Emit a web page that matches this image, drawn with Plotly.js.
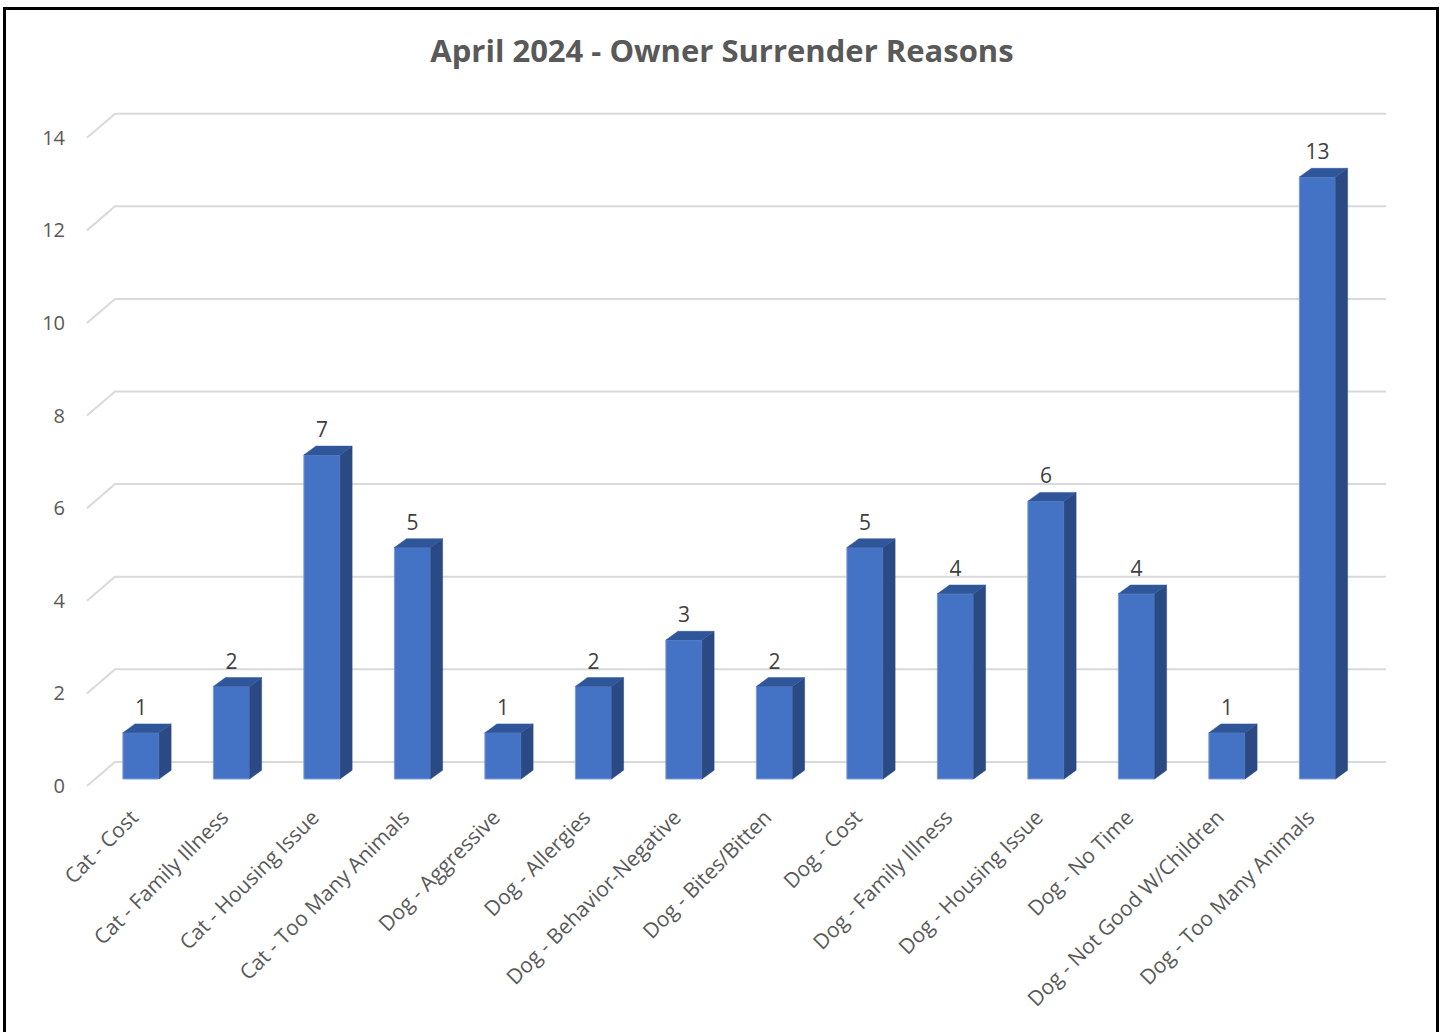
<!DOCTYPE html>
<html>
<head>
<meta charset="utf-8">
<script src="https://cdn.plot.ly/plotly-3.0.1.min.js"></script>
<style>
  html, body { margin: 0; padding: 0; background: #ffffff; overflow: hidden; }
  #chart { width: 1444px; height: 1032px; }
  #frame { position: absolute; left: 3px; top: 7px; width: 1436px; height: 1100px;
           box-sizing: border-box; border: 3px solid #000; pointer-events: none; }
</style>
</head>
<body>
<div id="chart"></div>
<div id="frame"></div>
<script>
// ---- data ----
const categories = [
  "Cat - Cost", "Cat - Family Illness", "Cat - Housing Issue", "Cat - Too Many Animals",
  "Dog - Aggressive", "Dog - Allergies", "Dog - Behavior-Negative", "Dog - Bites/Bitten",
  "Dog - Cost", "Dog - Family Illness", "Dog - Housing Issue", "Dog - No Time",
  "Dog - Not Good W/Children", "Dog - Too Many Animals"
];
const counts = [1, 2, 7, 5, 1, 2, 3, 2, 5, 4, 6, 4, 1, 13];
const yTicks = [0, 2, 4, 6, 8, 10, 12, 14];
const chartTitle = "April 2024 - Owner Surrender Reasons";

// ---- style / geometry constants (3D look) ----
const BAR_W = 0.4;        // front face width (category units)
const DEPTH_X = 0.133;    // bar depth, x (category units)
const DEPTH_Y = 0.19;     // bar depth, y (value units)
const LABEL_GAP = 0.08;   // extra space above bar for data label
const WALL_X_FRONT = -0.597;
const WALL_X_BACK = -0.287;
const WALL_X_END = 13.757;
const WALL_DY = 0.52;

const idx = categories.map((_, i) => i);

// gridlines (front-left diagonal + back wall horizontal)
const gx = [], gy = [];
yTicks.forEach(v => {
  gx.push(WALL_X_FRONT, WALL_X_BACK, WALL_X_END, null);
  gy.push(v, v + WALL_DY, v + WALL_DY, null);
});

// side and top faces of each bar
const sx = [], sy = [], tx = [], ty = [];
idx.forEach(i => {
  const v = counts[i];
  const l = i - BAR_W / 2, r = i + BAR_W / 2;
  sx.push(r, r + DEPTH_X, r + DEPTH_X, r, r, null);
  sy.push(0, DEPTH_Y, v + DEPTH_Y, v, 0, null);
  tx.push(l, l + DEPTH_X, r + DEPTH_X, r, l, null);
  ty.push(v, v + DEPTH_Y, v + DEPTH_Y, v, v, null);
});

const FONT = "Open Sans, Noto Sans, sans-serif";

const traces = [
  { type: "scatter", mode: "lines", x: gx, y: gy, xaxis: "x", yaxis: "y",
    line: { color: "#D9D9D9", width: 2 }, hoverinfo: "skip", showlegend: false },
  { type: "bar", x: idx, y: counts, width: BAR_W, xaxis: "x", yaxis: "y2",
    marker: { color: "#4472C4", line: { color: "#7C9BD8", width: 1 } },
    hoverinfo: "skip", showlegend: false },
  { type: "scatter", mode: "lines", x: sx, y: sy, xaxis: "x", yaxis: "y2",
    fill: "toself", fillcolor: "#2B4A84", line: { color: "#2B4A84", width: 0.5 },
    hoverinfo: "skip", showlegend: false },
  { type: "scatter", mode: "lines", x: tx, y: ty, xaxis: "x", yaxis: "y2",
    fill: "toself", fillcolor: "#30569A", line: { color: "#30569A", width: 0.5 },
    hoverinfo: "skip", showlegend: false },
  { type: "scatter", mode: "text", x: idx, y: counts.map(v => v + DEPTH_Y + LABEL_GAP),
    text: counts.map(String), textposition: "top center", xaxis: "x", yaxis: "y2",
    textfont: { family: FONT, size: 21, color: "#404040" },
    hoverinfo: "skip", showlegend: false }
];

const layout = {
  width: 1444, height: 1032,
  margin: { l: 80, r: 44, t: 100, b: 232 },
  paper_bgcolor: "#ffffff", plot_bgcolor: "rgba(0,0,0,0)",
  font: { family: FONT, color: "#595959" },
  title: { text: "<b>" + chartTitle + "</b>", xref: "container", x: 0.5, xanchor: "center",
           yref: "container", y: 0.95, yanchor: "middle",
           font: { family: FONT, size: 31, color: "#595959" } },
  xaxis: { range: [-0.674, 13.912], tickmode: "array", tickvals: idx, ticktext: categories,
           tickangle: -45, showgrid: false, zeroline: false, showline: false, ticks: "",
           ticklabelshift: -9,
           tickfont: { family: FONT, size: 21, color: "#595959" } },
  yaxis: { range: [-0.3024, 14.816], tickmode: "array", tickvals: yTicks,
           showgrid: false, zeroline: false, showline: false, ticks: "",
           ticklabelstandoff: 14,
           tickfont: { family: FONT, size: 20, color: "#595959" } },
  yaxis2: { range: [-0.4536, 14.665], overlaying: "y", visible: false,
            showgrid: false, zeroline: false },
  bargap: 0
};

Plotly.newPlot("chart", traces, layout, { displayModeBar: false, staticPlot: true });
</script>
</body>
</html>
